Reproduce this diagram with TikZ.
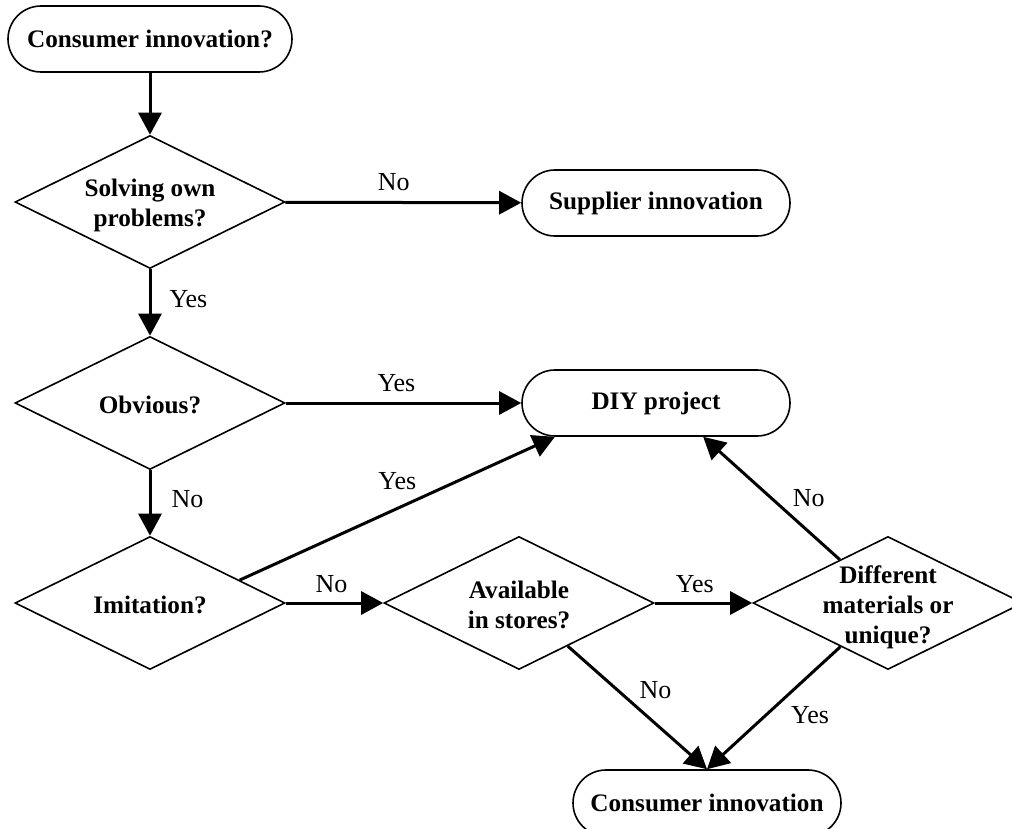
\documentclass[tikz,border=0pt]{standalone}
\usepackage{fontspec}
\setmainfont{Liberation Serif}
\usetikzlibrary{arrows.meta,positioning,shapes.geometric,calc}

\newcommand{\dtxt}[1]{\smash{\raisebox{-5pt}{\begin{tabular}{@{}c@{}}#1\end{tabular}}}}

\begin{document}
\begin{tikzpicture}[
  x=0.5pt, y=-0.5pt,
  every node/.style={font=\fontsize{12.6}{15}\selectfont},
  term/.style={rectangle, draw, line width=0.8pt, rounded corners=16.5pt,
    minimum height=33pt, minimum width=134pt,
    font=\fontsize{12.6}{15}\selectfont\bfseries},
  decision/.style={diamond, draw, line width=0.8pt, inner sep=0pt,
    minimum width=135pt, minimum height=66.5pt,
    font=\fontsize{12.6}{15}\selectfont\bfseries},
  lbl/.style={inner sep=2pt, font=\fontsize{13}{15}\selectfont},
  arr/.style={->, line width=1.5pt},
  >={Triangle[length=11pt, width=11.5pt]},
]
  \useasboundingbox (0,0) rectangle (1012,829);

  %% Left column: start and the three questions
  \node[term, minimum width=142pt] (start) at (150,39) {Consumer innovation?};
  \node[decision] (solve) at (150,202) {\dtxt{Solving own\\problems?}};
  \node[decision] (obv) at (150,403) {\dtxt{Obvious?}};
  \node[decision] (imit) at (150,603) {\dtxt{Imitation?}};

  %% Right side: outcomes and the two later questions
  \node[term] (supp) at (656,203) {Supplier innovation};
  \node[term] (diy) at (656,403) {DIY project};
  \node[decision] (avail) at (519,603) {\dtxt{Available\\in stores?}};
  \node[decision] (diff) at (888,603) {\dtxt{Different\\materials or\\unique?}};
  \node[term] (cons) at (707,803) {Consumer innovation};

  %% Arrows: main column
  \draw[arr] (start) -- (solve);
  \draw[arr] (solve) -- node[lbl, pos=0.46, above=3pt] {No} (supp);
  \draw[arr] (solve) -- node[lbl, pos=0.455, right=7pt] {Yes} (obv);
  \draw[arr] (obv) -- node[lbl, pos=0.47, above=3pt] {Yes} (diy);
  \draw[arr] (obv) -- node[lbl, pos=0.44, right=8pt] {No} (imit);

  %% Imitation branch
  \draw[arr] ($(imit.north)!0.66!(imit.east)$) -- node[lbl, pos=0.5, above=6.5pt] {Yes}
    ($(diy.south west)!0.125!(diy.south east)$);
  \draw[arr] (imit) -- node[lbl, pos=0.47, above=2.5pt] {No} (avail);
  \draw[arr] (avail) -- node[lbl, pos=0.41, above=2.5pt] {Yes} (diff);

  %% Back up to DIY, down to consumer innovation
  \draw[arr] (diff) -- node[lbl, pos=0.5, right=8pt] {No} ($(diy.south)!0.35!(diy.south east)$);
  \draw[arr] (avail) -- node[lbl, pos=0.355, right=8.5pt] {No} (cons.north);
  \draw[arr] (diff) -- node[lbl, pos=0.56, right=10pt] {Yes} (cons.north);
\end{tikzpicture}
\end{document}
